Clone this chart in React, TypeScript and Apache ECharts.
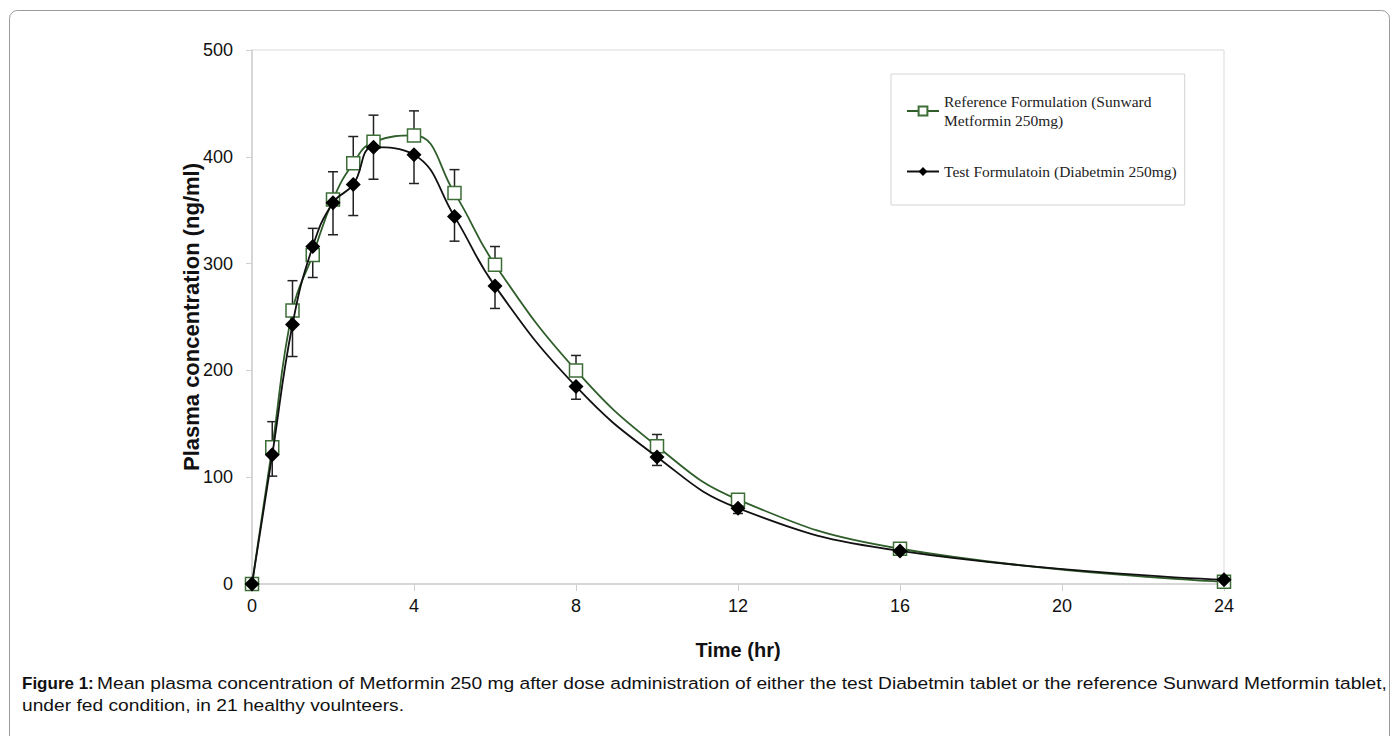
import React, { useEffect, useRef } from "react";
import * as echarts from "echarts";

const times = [0, 0.5, 1, 1.5, 2, 2.5, 3, 4, 5, 6, 8, 10, 12, 16, 24];
const refValues = [0, 128, 256, 308, 360, 394, 414, 420, 366, 299, 200, 129, 79, 33, 2];
const testValues = [0, 121, 243, 316, 357, 374, 409, 402, 344, 279, 185, 119, 71, 31, 4];
const refErrUp = [0, 24, 28, 25, 26, 25, 25, 23, 22, 17, 14, 11, 5, 3, 2];
const testErrDown = [0, 20, 30, 29, 30, 29, 30, 27, 23, 21, 12, 8, 5, 3, 2];

const refName = "Reference Formulation (Sunward\nMetformin 250mg)";
const testName = "Test Formulatoin (Diabetmin 250mg)";
const xTitle = "Time (hr)";
const yTitle = "Plasma concentration (ng/ml)";
const captionBold = "Figure 1:";
const captionLine1 =
  "Mean plasma concentration of Metformin 250 mg after dose administration of either the test Diabetmin tablet or the reference Sunward Metformin tablet,";
const captionLine2 = "under fed condition, in 21 healthy voulnteers.";

const GREEN = "#2f5e2a";
const SANS = "Liberation Sans, Arial, sans-serif";

function errRender(dir: number) {
  return (params: any, api: any) => {
    const x = api.value(0);
    const y = api.value(1);
    const e = api.value(2);
    if (!e) return null;
    const p0 = api.coord([x, y]);
    const p1 = api.coord([x, y + dir * e]);
    const half = 5;
    const style = { stroke: "#222", lineWidth: 1.5 };
    return {
      type: "group",
      children: [
        { type: "line", shape: { x1: p0[0], y1: p0[1], x2: p1[0], y2: p1[1] }, style },
        { type: "line", shape: { x1: p1[0] - half, y1: p1[1], x2: p1[0] + half, y2: p1[1] }, style },
      ],
    };
  };
}

export default function App() {
  const ref = useRef<HTMLDivElement>(null);
  useEffect(() => {
    const chart = echarts.init(ref.current!, null, { renderer: "svg" });
    const refData = times.map((t, i) => [t, refValues[i]]);
    const testData = times.map((t, i) => [t, testValues[i]]);
    const refErr = times.map((t, i) => [t, refValues[i], refErrUp[i]]);
    const testErr = times.map((t, i) => [t, testValues[i], testErrDown[i]]);
    chart.setOption({
      animation: false,
      backgroundColor: "#fff",
      textStyle: { fontFamily: SANS },
      grid: {
        left: 252,
        right: 174,
        top: 50,
        bottom: 152,
        show: true,
        borderColor: "#d9d9d9",
        borderWidth: 1,
      },
      xAxis: {
        type: "value",
        min: 0,
        max: 24,
        interval: 4,
        name: xTitle,
        nameLocation: "middle",
        nameGap: 56,
        nameMoveOverlap: false,
        nameTextStyle: { fontSize: 20, fontWeight: "bold", color: "#111" },
        axisLine: { show: true, lineStyle: { color: "#d0d0d0", width: 1.5 } },
        axisTick: { show: true, inside: false, length: 7, lineStyle: { color: "#d0d0d0" } },
        axisLabel: { fontSize: 18, color: "#111", margin: 13 },
        splitLine: { show: false },
      },
      yAxis: {
        type: "value",
        min: 0,
        max: 500,
        interval: 100,
        name: yTitle,
        nameLocation: "middle",
        nameGap: 50,
        nameMoveOverlap: false,
        nameRotate: 90,
        nameTextStyle: { fontSize: 22, fontWeight: "bold", color: "#111" },
        axisLine: { show: true, lineStyle: { color: "#d0d0d0", width: 1.5 } },
        axisTick: { show: true, inside: false, length: 6, lineStyle: { color: "#d0d0d0" } },
        axisLabel: { fontSize: 18, color: "#111", margin: 19 },
        splitLine: { show: false },
      },
      legend: {
        orient: "vertical",
        left: 891,
        top: 74,
        itemWidth: 32,
        itemHeight: 11,
        itemGap: 32,
        padding: [18, 8, 24, 15],
        borderColor: "#d4d4d4",
        borderWidth: 1,
        backgroundColor: "#fff",
        textStyle: { fontFamily: "Liberation Serif, serif", fontSize: 15.5, color: "#222", lineHeight: 19 },
        data: [refName, testName],
      },
      series: [
        {
          type: "custom",
          name: "refErr",
          renderItem: errRender(1),
          data: refErr,
          z: 1,
          silent: true,
        },
        {
          type: "custom",
          name: "testErr",
          renderItem: errRender(-1),
          data: testErr,
          z: 1,
          silent: true,
        },
        {
          type: "line",
          name: refName,
          data: refData,
          smooth: 0.45,
          symbol: "rect",
          symbolSize: 13,
          showAllSymbol: true,
          lineStyle: { color: GREEN, width: 1.8 },
          itemStyle: { color: "#fff", borderColor: "#3d6e37", borderWidth: 1.5 },
          z: 3,
        },
        {
          type: "line",
          name: testName,
          data: testData,
          smooth: 0.45,
          symbol: "diamond",
          symbolSize: 15,
          showAllSymbol: true,
          lineStyle: { color: "#111", width: 1.8 },
          itemStyle: { color: "#000", borderColor: "#000", borderWidth: 0 },
          z: 4,
        },
      ],
      graphic: [
        {
          type: "rect",
          shape: { x: 9.5, y: 10.5, width: 1380, height: 760, r: 8 },
          style: { fill: "none", stroke: "#9a9a9a", lineWidth: 1 },
          z: 0,
        },
        {
          type: "text",
          x: 22,
          y: 683,
          style: {
            text: captionBold,
            fontFamily: SANS,
            fontWeight: "bold",
            fontSize: 17,
            fill: "#111",
            verticalAlign: "middle",
          },
        },
        {
          type: "text",
          x: 97,
          y: 683,
          scaleX: 1.13,
          style: {
            text: captionLine1,
            fontFamily: SANS,
            fontSize: 17,
            fill: "#111",
            verticalAlign: "middle",
          },
        },
        {
          type: "text",
          x: 22,
          y: 705,
          scaleX: 1.13,
          style: {
            text: captionLine2,
            fontFamily: SANS,
            fontSize: 17,
            fill: "#111",
            verticalAlign: "middle",
          },
        },
      ],
    });
    return () => chart.dispose();
  }, []);
  return (
    <div
      ref={ref}
      style={{ position: "fixed", left: 0, top: 0, width: 1398, height: 736, background: "#fff" }}
    />
  );
}
